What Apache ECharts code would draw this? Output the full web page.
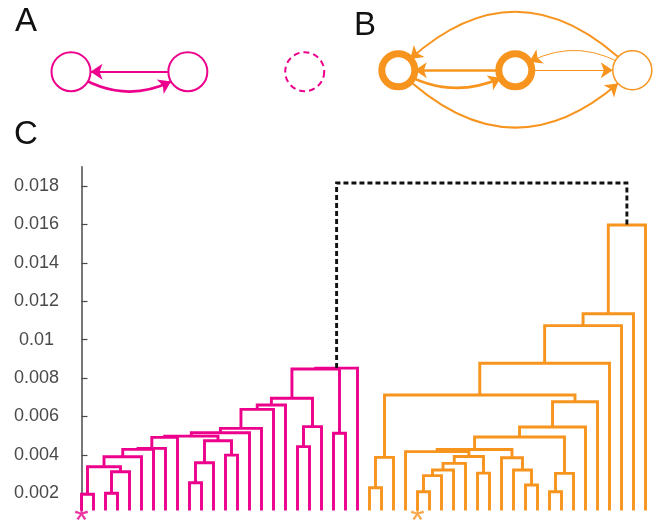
<!DOCTYPE html>
<html>
<head>
<meta charset="utf-8">
<script src="https://cdn.jsdelivr.net/npm/echarts@6/dist/echarts.min.js"></script>
<style>
  html, body { margin: 0; padding: 0; background: #fff; }
  #chart { width: 655px; height: 527px; }
</style>
</head>
<body>
<div id="chart"></div>
<script>
const PINK = '#ec008c';
const ORANGE = '#f7941e';

// ---- Dendrogram (panel C) ----
// 48 leaves in display order: 0-23 pink cluster, 24-47 orange cluster.
const leafCount = 48;
// Each merge: [childA, childB, height]; ids < 48 are leaves, new clusters get ids 48, 49, ...
const pinkMerges = [
  [0, 1, 0.00195],   // 48
  [2, 3, 0.00200],   // 49
  [49, 4, 0.00312],  // 50
  [48, 50, 0.00338], // 51
  [51, 5, 0.00390],  // 52
  [52, 6, 0.00429],  // 53
  [53, 7, 0.00434],  // 54
  [54, 8, 0.00491],  // 55
  [9, 10, 0.00255],  // 56
  [56, 11, 0.00359], // 57
  [12, 13, 0.00399], // 58
  [57, 58, 0.00474], // 59
  [55, 59, 0.00498], // 60
  [60, 14, 0.00515], // 61
  [61, 15, 0.00538], // 62
  [62, 16, 0.00637], // 63
  [63, 17, 0.00660], // 64
  [18, 19, 0.00443], // 65
  [65, 20, 0.00547], // 66
  [64, 66, 0.00695], // 67
  [21, 22, 0.00513], // 68
  [67, 68, 0.00847], // 69
  [69, 23, 0.00852]  // 70
];
const orangeMerges = [
  [24, 25, 0.00229], // 71
  [71, 26, 0.00387], // 72
  [28, 29, 0.00208], // 73
  [73, 30, 0.00292], // 74
  [74, 31, 0.00321], // 75
  [75, 32, 0.00356], // 76
  [33, 34, 0.00305], // 77
  [76, 77, 0.00392], // 78
  [27, 78, 0.00417], // 79
  [37, 38, 0.00243], // 80
  [36, 80, 0.00321], // 81
  [35, 81, 0.00385], // 82
  [79, 82, 0.00428], // 83
  [39, 40, 0.00208], // 84
  [84, 41, 0.00304], // 85
  [83, 85, 0.00493], // 86
  [86, 42, 0.00545], // 87
  [87, 43, 0.00677], // 88
  [72, 88, 0.00712], // 89
  [89, 44, 0.00877], // 90
  [90, 45, 0.01073], // 91
  [91, 46, 0.01135], // 92
  [92, 47, 0.01597]  // 93
];
const rootMerge = [
  [70, 93, 0.01816]  // 94
];
const yTicks = [0.002, 0.004, 0.006, 0.008, 0.01, 0.012, 0.014, 0.016, 0.018];
const markedLeaves = [0, 28];

// ---- Network diagrams (panels A and B) ----
// Units sit at slots 0, 1, 2 along each row.
const unitsA = [0, 1, 2];
const unitRingA = [2, 2, 2];
const unitDashedA = [false, false, true];
// [from, to, curveness, width]
const edgesA = [
  [1, 0, 0, 2],
  [0, 1, -0.34, 2.6]
];
const unitsB = [0, 1, 2];
const unitRingB = [7, 7, 1.5];
const edgesB = [
  [1, 0, 0, 2.6],
  [0, 1, -0.30, 2.6],
  [1, 2, 0, 1],
  [2, 1, -0.34, 1],
  [2, 0, -0.50, 2],
  [0, 2, -0.49, 2]
];

const yMin = 0.0011, yMax = 0.019;

// Lay out the tree: leaves at their index, clusters centred over their children.
const nodeX = [], nodeH = [];
for (let i = 0; i < leafCount; i++) { nodeX.push(i); nodeH.push(yMin); }
function linkRows(merges) {
  return merges.map(([a, b, h]) => {
    const row = [nodeX[a], nodeH[a], nodeX[b], nodeH[b], h];
    nodeX.push((nodeX[a] + nodeX[b]) / 2);
    nodeH.push(h);
    return row;
  });
}
const pinkLinks = linkRows(pinkMerges);
const orangeLinks = linkRows(orangeMerges);
const rootLinks = linkRows(rootMerge);

function linkSeries(rows, color, dash) {
  return {
    type: 'custom',
    xAxisIndex: 0,
    yAxisIndex: 0,
    silent: true,
    data: rows,
    encode: { x: [0, 2], y: [1, 3, 4] },
    renderItem(params, api) {
      const pts = [
        api.coord([api.value(0), api.value(1)]),
        api.coord([api.value(0), api.value(4)]),
        api.coord([api.value(2), api.value(4)]),
        api.coord([api.value(2), api.value(3)])
      ];
      return {
        type: 'polyline',
        shape: { points: pts },
        style: { stroke: color, fill: 'none', lineWidth: 2.9, lineDash: dash || null, lineJoin: 'miter' }
      };
    }
  };
}

function diagramSeries(units, rings, dashed, edges, color, thickSize, gridIdx) {
  return {
    type: 'graph',
    layout: 'none',
    coordinateSystem: 'cartesian2d',
    xAxisIndex: gridIdx,
    yAxisIndex: gridIdx,
    silent: true,
    edgeSymbol: ['none', 'arrow'],
    edgeSymbolSize: [0, 12],
    data: units.map((x, i) => ({
      value: [x, 0],
      symbolSize: rings[i] > 3 ? thickSize : 39,
      itemStyle: {
        color: '#fff',
        borderColor: color,
        borderWidth: rings[i],
        borderType: dashed[i] ? [6, 4] : 'solid'
      }
    })),
    links: edges.map(([s, t, c, w]) => ({
      source: s,
      target: t,
      lineStyle: { color: color, width: w, curveness: c, opacity: 1 }
    })),
    lineStyle: { opacity: 1 },
    label: { show: false }
  };
}

const chart = echarts.init(document.getElementById('chart'), null, { renderer: 'canvas' });

const axisGrey = '#4a4a4a';

chart.setOption({
  animation: false,
  backgroundColor: '#fff',
  textStyle: { fontFamily: 'Liberation Sans' },
  grid: [
    { left: 69.5, top: 166.8, width: 582, height: 343.8 },
    { left: 71, top: 51.7, width: 233.7, height: 40 },
    { left: 398.3, top: 50.3, width: 234, height: 40 }
  ],
  xAxis: [
    { gridIndex: 0, type: 'value', min: -1, max: 47.5, show: false },
    { gridIndex: 1, type: 'value', min: 0, max: 2, show: false },
    { gridIndex: 2, type: 'value', min: 0, max: 2, show: false }
  ],
  yAxis: [
    {
      gridIndex: 0,
      type: 'value',
      min: yMin,
      max: yMax,
      axisLine: { show: true, lineStyle: { color: axisGrey, width: 1.5 } },
      axisTick: { show: true, inside: true, length: 6, customValues: yTicks, lineStyle: { color: axisGrey, width: 1.2 } },
      axisLabel: {
        customValues: yTicks,
        formatter: (v) => String(parseFloat(v.toFixed(3))),
        color: axisGrey,
        fontSize: 18,
        fontFamily: 'Liberation Sans',
        align: 'center',
        margin: 33
      },
      splitLine: { show: false }
    },
    { gridIndex: 1, type: 'value', min: -1, max: 1, show: false },
    { gridIndex: 2, type: 'value', min: -1, max: 1, show: false }
  ],
  graphic: [
    { type: 'text', style: { x: 15, y: 22, text: 'A', font: '33px "Liberation Sans"', fill: '#111', verticalAlign: 'middle' } },
    { type: 'text', style: { x: 354, y: 26, text: 'B', font: '33px "Liberation Sans"', fill: '#111', verticalAlign: 'middle' } },
    { type: 'text', style: { x: 14, y: 135, text: 'C', font: '33px "Liberation Sans"', fill: '#111', verticalAlign: 'middle' } }
  ],
  series: [
    linkSeries(pinkLinks, PINK),
    linkSeries(orangeLinks, ORANGE),
    linkSeries(rootLinks, '#111', [5, 3]),
    {
      type: 'scatter',
      xAxisIndex: 0,
      yAxisIndex: 0,
      symbolSize: 0,
      clip: false,
      silent: true,
      data: markedLeaves.map((i) => ({
        value: [i, yMin],
        label: { color: i < 24 ? PINK : ORANGE }
      })),
      label: { show: true, position: 'bottom', distance: -6, formatter: '*', fontSize: 37, fontFamily: 'Liberation Sans' }
    },
    diagramSeries(unitsA, unitRingA, unitDashedA, edgesA, PINK, 39, 1),
    diagramSeries(unitsB, unitRingB, [false, false, false], edgesB, ORANGE, 33, 2)
  ]
});
</script>
</body>
</html>
